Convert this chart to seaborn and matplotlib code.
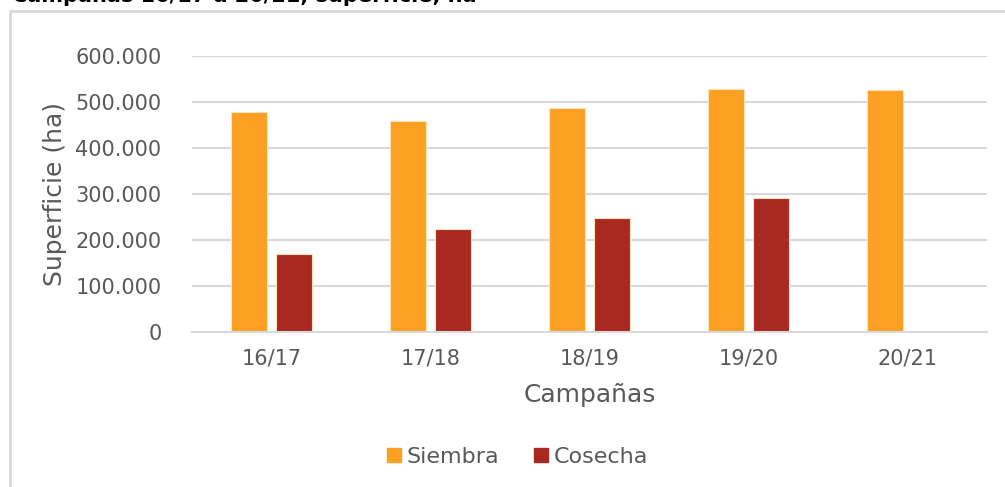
import numpy as np
import pandas as pd
import matplotlib
matplotlib.use("Agg")
import matplotlib.pyplot as plt
from matplotlib.ticker import FuncFormatter
from matplotlib.lines import Line2D
import seaborn as sns

# data
campanas = ["16/17", "17/18", "18/19", "19/20", "20/21"]
siembra = [478000, 458000, 486000, 528000, 527000]
cosecha = [169000, 225000, 249000, 291000, np.nan]
series_names = ["Siembra", "Cosecha"]
y_ticks = [0, 100000, 200000, 300000, 400000, 500000, 600000]

df = pd.DataFrame({
    "Campañas": campanas * 2,
    "Serie": [series_names[0]] * len(campanas) + [series_names[1]] * len(campanas),
    "Superficie": siembra + cosecha,
})

sns.set_theme(style="white")
plt.rcParams["font.family"] = ["DejaVu Sans"]
text_color = "#595959"
grid_color = "#D9D9D9"
palette = {"Siembra": "#FCA024", "Cosecha": "#A9281F"}

fig = plt.figure(figsize=(10.05, 4.87), dpi=100)
ax = fig.add_axes([0.191, 0.318, 0.791, 0.567])

sns.barplot(data=df, x="Campañas", y="Superficie", hue="Serie",
            palette=palette, saturation=1, width=0.572, gap=0.21, ax=ax,
            edgecolor="#FFE3B8", linewidth=0.8, legend=False)

ax.set_ylim(0, 600000)
ax.set_yticks(y_ticks)
ax.yaxis.set_major_formatter(FuncFormatter(lambda v, p: f"{int(v):,}".replace(",", ".")))
ax.set_xlim(-0.5, len(campanas) - 0.5)
ax.grid(axis="y", color=grid_color, linewidth=1.5)
ax.set_axisbelow(True)
for side in ["top", "right", "left"]:
    ax.spines[side].set_visible(False)
ax.spines["bottom"].set_color(grid_color)
ax.spines["bottom"].set_linewidth(1.5)
ax.tick_params(axis="both", length=0, labelsize=15, labelcolor=text_color)
ax.tick_params(axis="y", pad=22)
ax.tick_params(axis="x", pad=12)
ax.set_ylabel("Superficie (ha)", fontsize=18, color=text_color, labelpad=6)
ax.set_xlabel("Campañas", fontsize=18, color=text_color, labelpad=10)

handles = [Line2D([0], [0], marker="s", linestyle="", markersize=10,
                  markerfacecolor=palette[n], markeredgecolor=palette[n]) for n in series_names]
fig.legend(handles, series_names, loc="center", bbox_to_anchor=(0.513, 0.062),
           ncol=2, frameon=False, fontsize=16, labelcolor=text_color,
           handletextpad=0.05, columnspacing=1.4, handlelength=1.0)

# outer chart border (left and top visible)
x0 = 10 / 1005
y0 = 1 - 11 / 487
fig.add_artist(Line2D([x0, x0], [0, y0], transform=fig.transFigure, color=grid_color, linewidth=2))
fig.add_artist(Line2D([x0, 1], [y0, y0], transform=fig.transFigure, color=grid_color, linewidth=2))

# title clipped at the top edge, as in the reference
fig.text(0.012, 0.996, "Campañas 16/17 a 20/21, superficie, ha", fontsize=15,
         fontweight="bold", color="black", va="baseline", ha="left")

fig.savefig("out.png", dpi=100)
